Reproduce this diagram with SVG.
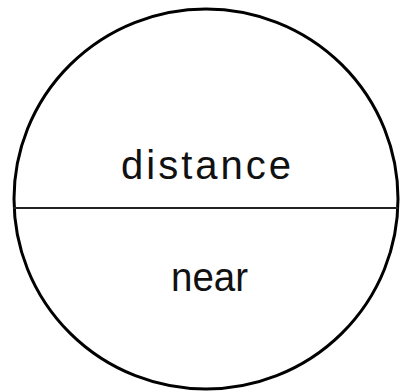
<svg xmlns="http://www.w3.org/2000/svg" width="401" height="392" viewBox="0 0 401 392">
<style>
.t{font-family:"Liberation Sans",Arial,sans-serif;font-size:40px;fill:#111}
</style>
<rect width="401" height="392" fill="#fff"/>
<g id="circle">
<ellipse cx="206" cy="199" rx="192" ry="190" fill="none" stroke="#000" stroke-width="3"/>
</g>
<g id="connectors">
<line x1="13" y1="208" x2="398" y2="208" stroke="#222" stroke-width="2"/>
</g>
<g id="label-distance">
<text class="t" x="121" y="179" textLength="170" lengthAdjust="spacing">distance</text>
</g>
<g id="label-near">
<text class="t" x="171" y="291" textLength="77" lengthAdjust="spacingAndGlyphs">near</text>
</g>
</svg>
